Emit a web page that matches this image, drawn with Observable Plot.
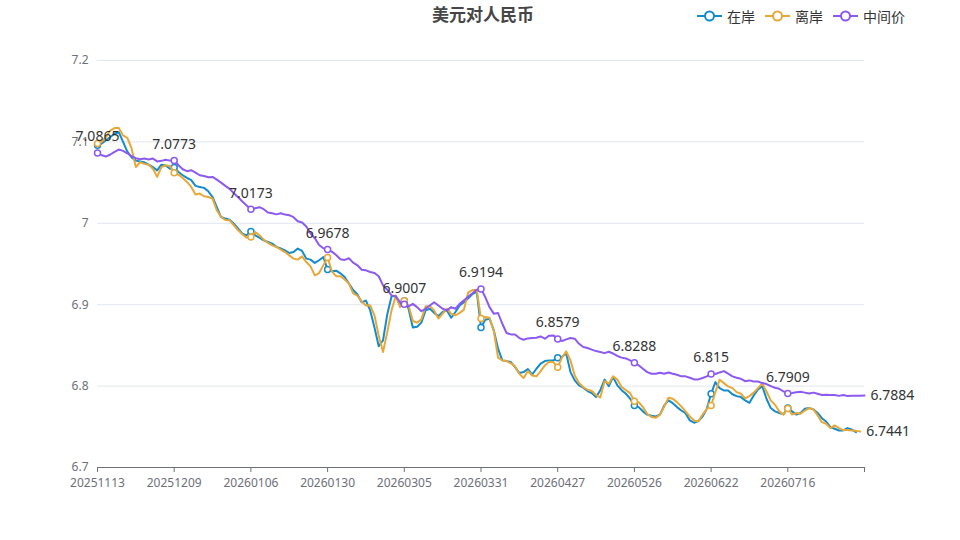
<!DOCTYPE html>
<html>
<head>
<meta charset="utf-8">
<script src="https://cdn.jsdelivr.net/npm/d3@7"></script>
<script src="https://cdn.jsdelivr.net/npm/@observablehq/plot@0.6"></script>
<style>
  body { margin: 0; background: #fff; }
  #wrap { position: relative; width: 960px; height: 540px; font-family: "Noto Sans", "Noto Sans CJK SC", sans-serif; }
  #title { position: absolute; left: 0; top: 2px; width: 966px; text-align: center; font-family: "Noto Sans CJK SC", sans-serif; font-weight: bold; font-size: 17px; line-height: 24px; color: #464646; }
  #legend { position: absolute; left: 697px; top: 6px; display: flex; align-items: center; font-family: "Noto Sans CJK SC", sans-serif; font-size: 14px; color: #333; }
  .item { display: flex; align-items: center; margin-right: 10px; }
  .item svg { margin-right: 5px; }
  #chart { position: absolute; left: 0; top: 0; }
</style>
</head>
<body>
<div id="wrap">
  <div id="chart"></div>
  <div id="title">美元对人民币</div>
  <div id="legend"></div>
</div>
<script>
// ---- data ----
const seriesNames = ["在岸", "离岸", "中间价"];
const seriesColors = ["#128ccd", "#e8a838", "#8c5af0"];

// x-axis category labels (every 18th trading day) and their positions
const dateLabels = ["20251113","20251209","20260106","20260130","20260305","20260331","20260427","20260526","20260622","20260716"];
const labelIdx = [0, 18, 36, 54, 72, 90, 108, 126, 144, 162];
const lastIdx = 180;
const yTicks = [6.7, 6.8, 6.9, 7.0, 7.1, 7.2];

// 在岸
const onshore = [
  7.096, 7.098, 7.102, 7.106, 7.110, 7.112, 7.100, 7.088, 7.081, 7.077,
  7.076, 7.075, 7.072, 7.069, 7.065, 7.072, 7.071, 7.067, 7.0685, 7.063,
  7.059, 7.0557, 7.053, 7.046, 7.0447, 7.0435, 7.0393, 7.0323, 7.020, 7.0077,
  7.0058, 7.0045, 6.9996, 6.9935, 6.9873, 6.9852, 6.990, 6.9852, 6.9824, 6.979,
  6.977, 6.975, 6.971, 6.969, 6.9668, 6.9635, 6.9647, 6.969, 6.966, 6.9566,
  6.9554, 6.9513, 6.9546, 6.9586, 6.9431, 6.941, 6.9418, 6.9385, 6.934, 6.926,
  6.918, 6.9125, 6.903, 6.905, 6.893, 6.872, 6.849, 6.856, 6.888, 6.910,
  6.911, 6.900, 6.905, 6.895, 6.872, 6.873, 6.878, 6.893, 6.895, 6.890,
  6.886, 6.891, 6.893, 6.884, 6.891, 6.899, 6.903, 6.908, 6.913, 6.916,
  6.872, 6.8816, 6.8828, 6.8685, 6.846, 6.8316, 6.8307, 6.8295, 6.8234, 6.816,
  6.8172, 6.821, 6.814, 6.8213, 6.8275, 6.8307, 6.8316, 6.8316, 6.8349, 6.836,
  6.840, 6.8172, 6.807, 6.8008, 6.798, 6.794, 6.7914, 6.7865, 6.795, 6.808,
  6.800, 6.811, 6.801, 6.795, 6.7906, 6.7845, 6.7762, 6.7742, 6.769, 6.765,
  6.7635, 6.7627, 6.765, 6.7762, 6.7824, 6.779, 6.7742, 6.770, 6.7668, 6.7578,
  6.755, 6.757, 6.7627, 6.7722, 6.7906, 6.8049, 6.7975, 6.7947, 6.7947, 6.790,
  6.7877, 6.7865, 6.7824, 6.7795, 6.7885, 6.796, 6.800, 6.7845, 6.773, 6.769,
  6.767, 6.7655, 6.773, 6.769, 6.765, 6.767, 6.7722, 6.773, 6.7714, 6.767,
  6.7606, 6.7565, 6.7496, 6.7476, 6.7455, 6.7455, 6.7484, 6.7467, 6.7434
];

// 离岸
const offshore = [
  7.098, 7.100, 7.106, 7.114, 7.117, 7.117, 7.108, 7.105, 7.092, 7.069,
  7.075, 7.073, 7.072, 7.067, 7.057, 7.069, 7.0713, 7.0705, 7.062, 7.0598,
  7.0557, 7.0508, 7.0447, 7.0353, 7.0365, 7.0332, 7.0323, 7.0303, 7.016, 7.0077,
  7.004, 7.0037, 6.9976, 6.9914, 6.9865, 6.9824, 6.9832, 6.9893, 6.9853, 6.9799,
  6.9758, 6.9729, 6.9709, 6.9677, 6.9647, 6.9606, 6.9566, 6.9554, 6.9594, 6.9524,
  6.9471, 6.936, 6.9389, 6.9483, 6.958, 6.941, 6.935, 6.935, 6.931, 6.926,
  6.914, 6.911, 6.904, 6.899, 6.899, 6.887, 6.862, 6.842, 6.866, 6.893,
  6.911, 6.897, 6.905, 6.899, 6.880, 6.878, 6.882, 6.898, 6.898, 6.893,
  6.883, 6.889, 6.895, 6.889, 6.887, 6.890, 6.894, 6.915, 6.918, 6.918,
  6.883, 6.885, 6.884, 6.868, 6.835, 6.8316, 6.8307, 6.828, 6.8242, 6.815,
  6.810, 6.8185, 6.8131, 6.812, 6.8185, 6.8254, 6.830, 6.8295, 6.8233, 6.835,
  6.8426, 6.8316, 6.8131, 6.8037, 6.7988, 6.7955, 6.794, 6.789, 6.786, 6.806,
  6.803, 6.812, 6.808, 6.799, 6.795, 6.7914, 6.7815, 6.7803, 6.7742, 6.766,
  6.762, 6.761, 6.765, 6.775, 6.7857, 6.7845, 6.7803, 6.775, 6.769, 6.7627,
  6.7578, 6.7566, 6.765, 6.772, 6.7762, 6.7926, 6.8078, 6.8037, 6.7996, 6.7975,
  6.7926, 6.7906, 6.785, 6.7877, 6.792, 6.7975, 6.803, 6.7934, 6.7824, 6.777,
  6.769, 6.765, 6.7725, 6.765, 6.767, 6.766, 6.770, 6.773, 6.7714, 6.764,
  6.7557, 6.7537, 6.7484, 6.7517, 6.7484, 6.746, 6.746, 6.7455, 6.745, 6.7441
];

// 中间价
const midpoint = [
  7.0865, 7.0836, 7.082, 7.0845, 7.0877, 7.0906, 7.089, 7.086, 7.0824, 7.080,
  7.0787, 7.0795, 7.0783, 7.0795, 7.076, 7.0767, 7.078, 7.077, 7.0773, 7.0713,
  7.0664, 7.064, 7.0652, 7.0623, 7.059, 7.058, 7.0566, 7.057, 7.0537, 7.050,
  7.046, 7.0423, 7.037, 7.032, 7.0267, 7.022, 7.0173, 7.0185, 7.0198, 7.0173,
  7.0132, 7.0124, 7.011, 7.0124, 7.0107, 7.010, 7.0075, 7.0025, 7.001, 6.996,
  6.9878, 6.9816, 6.9734, 6.9693, 6.9678, 6.9652, 6.961, 6.9558, 6.955, 6.957,
  6.9517, 6.9484, 6.943, 6.9422, 6.9402, 6.939, 6.935, 6.9237, 6.9184, 6.9115,
  6.910, 6.9032, 6.9007, 6.8979, 6.901, 6.897, 6.892, 6.895, 6.899, 6.903,
  6.899, 6.895, 6.893, 6.897, 6.895, 6.901, 6.9053, 6.910, 6.914, 6.9184,
  6.9194, 6.9094, 6.897, 6.889, 6.8898, 6.8766, 6.8652, 6.8635, 6.8635, 6.859,
  6.857, 6.8586, 6.859, 6.8594, 6.861, 6.8582, 6.862, 6.8623, 6.8579, 6.8554,
  6.8574, 6.859, 6.8582, 6.852, 6.848, 6.8468, 6.8448, 6.843, 6.8418, 6.8405,
  6.8422, 6.840, 6.837, 6.835, 6.834, 6.8315, 6.8288, 6.8255, 6.8213, 6.8172,
  6.8152, 6.8152, 6.8164, 6.8152, 6.8168, 6.8152, 6.814, 6.812, 6.812, 6.8103,
  6.8082, 6.8082, 6.810, 6.812, 6.815, 6.8148, 6.8168, 6.8184, 6.8152, 6.812,
  6.8103, 6.809, 6.806, 6.807, 6.8057, 6.8057, 6.8037, 6.8025, 6.800, 6.798,
  6.7967, 6.7934, 6.7909, 6.7915, 6.7925, 6.793, 6.792, 6.791, 6.792, 6.7905,
  6.789, 6.7895, 6.789, 6.789, 6.788, 6.789, 6.7878, 6.788, 6.7882, 6.788,
  6.7884
];

// ---- build ----
const seriesData = [onshore, offshore, midpoint];
const rows = seriesData.map((arr, k) => arr.map((v, i) => ({ i, v, s: seriesNames[k] })));
const markRows = rows.map(r => r.filter(d => labelIdx.includes(d.i)));
const lastRows = rows.map(r => r[r.length - 1]);

const marks = [
  Plot.gridY(yTicks.slice(1), { stroke: "#e0e6f1", strokeOpacity: 1, strokeWidth: 1 }),
  Plot.ruleY([yTicks[0]], { stroke: "#6e7079", strokeWidth: 1 }),
  Plot.axisY({ ticks: yTicks, tickSize: 0, tickPadding: 9, label: null, tickFormat: d => String(+d.toFixed(2)), fontSize: 12 }),
  Plot.axisX({
    ticks: [...labelIdx, lastIdx], tickSize: 5, tickPadding: 6, fontSize: 12, label: null,
    tickFormat: d => { const k = labelIdx.indexOf(d); return k >= 0 ? dateLabels[k] : ""; }
  })
];
rows.forEach((r, k) => {
  marks.push(Plot.line(r, { x: "i", y: "v", stroke: seriesColors[k], strokeWidth: 2, strokeLinejoin: "round" }));
  marks.push(Plot.dot(markRows[k], { x: "i", y: "v", r: 3, stroke: seriesColors[k], strokeWidth: 1.5, fill: "white" }));
});
// labels on 中间价
marks.push(Plot.text(markRows[2], { x: "i", y: "v", text: d => String(d.v), dy: -16, fontSize: 14, fill: "#333" }));
// end labels
marks.push(Plot.text([lastRows[1], lastRows[2]], { x: "i", y: "v", text: d => String(d.v), dx: 6, textAnchor: "start", fontSize: 14, fill: "#333" }));

const chart = Plot.plot({
  width: 960,
  height: 540,
  marginTop: 60,
  marginBottom: 73,
  marginLeft: 97,
  marginRight: 96,
  x: { type: "linear", domain: [0, lastIdx], label: null },
  y: { domain: [yTicks[0], yTicks[yTicks.length - 1]], label: null },
  style: { fontFamily: "'Noto Sans', 'Noto Sans CJK SC', sans-serif", fontSize: "12px", color: "#6e7079", background: "white", overflow: "visible" },
  marks
});
document.getElementById("chart").appendChild(chart);

// legend
const legend = document.getElementById("legend");
seriesNames.forEach((name, k) => {
  const item = document.createElement("div");
  item.className = "item";
  item.innerHTML = `<svg width="25" height="14"><line x1="0" x2="25" y1="7" y2="7" stroke="${seriesColors[k]}" stroke-width="2"/><circle cx="12.5" cy="7" r="4.5" fill="white" stroke="${seriesColors[k]}" stroke-width="2"/></svg><span>${name}</span>`;
  legend.appendChild(item);
});
</script>
</body>
</html>
